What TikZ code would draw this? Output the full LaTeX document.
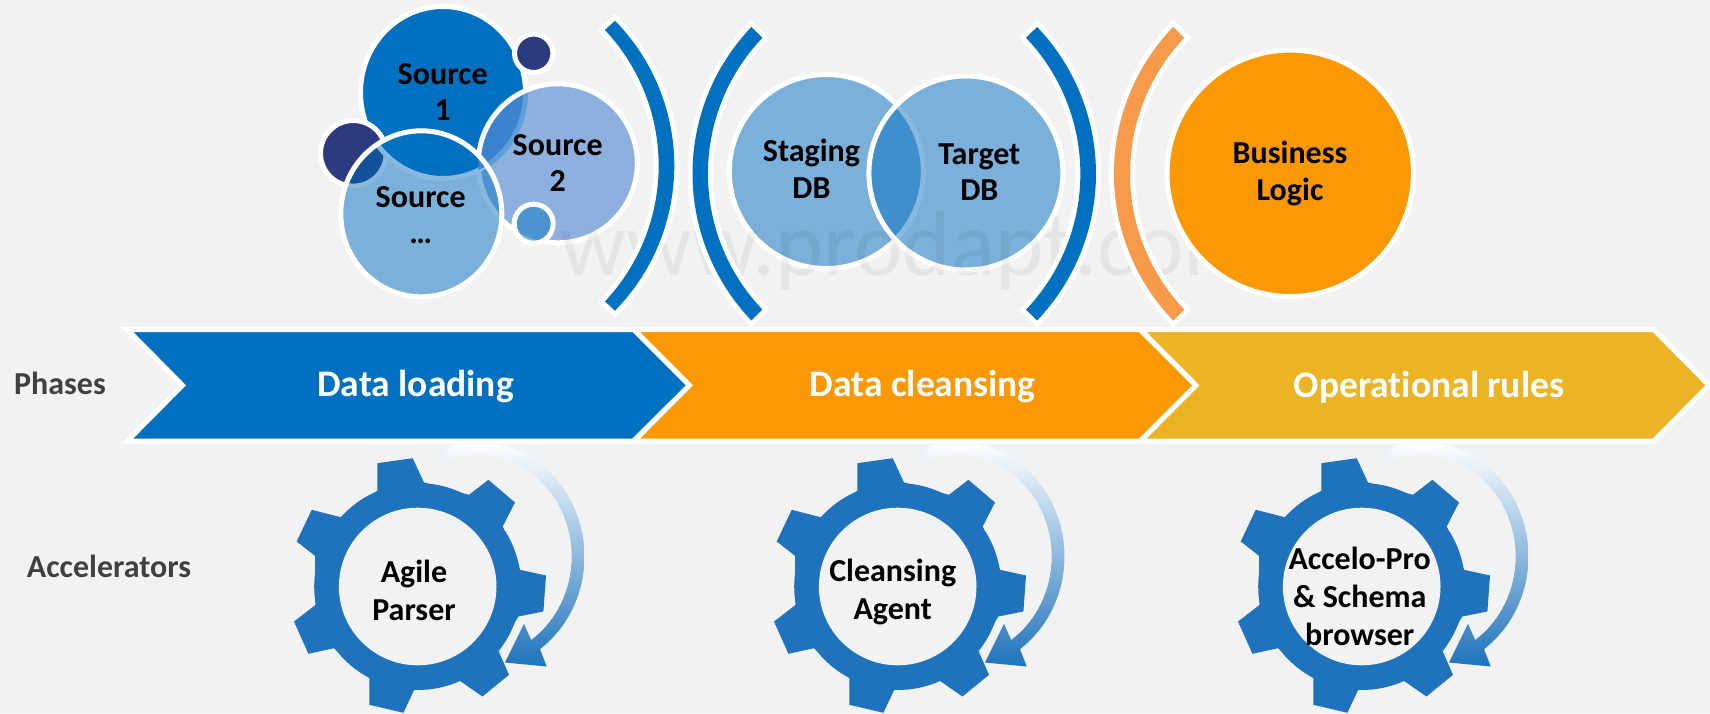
\documentclass[tikz,border=0pt]{standalone}
\usepackage{fontspec}
\setmainfont[Ligatures=NoCommon]{Carlito}
\definecolor{bgc}{HTML}{F2F2F2}
\definecolor{mainblue}{HTML}{0070C0}
\definecolor{midblue}{HTML}{7AB0D9}
\definecolor{paleblue}{HTML}{8EB0DE}
\definecolor{darkblue}{HTML}{2C3A80}
\definecolor{mixA}{HTML}{3B82CF}
\definecolor{mixB}{HTML}{4C93D0}
\definecolor{mixC}{HTML}{14519B}
\definecolor{mixD}{HTML}{3E8FCC}
\definecolor{faintA}{HTML}{5E9FD8}
\definecolor{faintB}{HTML}{88B8DE}
\definecolor{orangeA}{HTML}{FC9804}
\definecolor{orangeB}{HTML}{F79A4A}
\definecolor{yellowA}{HTML}{ECB424}
\definecolor{gearblue}{HTML}{1F73BC}
\definecolor{greytext}{HTML}{404040}
\definecolor{arrowmid}{HTML}{6FA6D6}
\tikzset{
  x=1pt,y=-1pt,
  ring/.style={draw=white,line width=5pt},
  lab/.style={inner sep=0pt,align=center,text=black,font=\fontsize{32}{36.5}\selectfont\bfseries},
  gearlab/.style={inner sep=0pt,align=center,text=black,font=\fontsize{32}{38}\selectfont\bfseries},
  phaselab/.style={inner sep=0pt,text=white,font=\fontsize{37.5}{40}\selectfont\bfseries},
  sidelab/.style={inner sep=0pt,text=greytext,font=\fontsize{32}{36}\selectfont\bfseries},
  chev/.style={draw=white,line width=5pt,miter limit=10},
}
% signed radius: negative opens to the right
\newcommand{\bandarc}[8]{%
  \path[fill=#1,preaction={draw=white,line width=10pt,miter limit=10,line join=miter}]
    plot[domain=-#5:#5,samples=40] ({#3+#4*cos(\x)},{#2+#4*sin(\x)})
    -- plot[domain=#8:-#8,samples=40] ({#6+#7*cos(\x)},{#2+#7*sin(\x)}) -- cycle;}
\newcommand{\gearshape}[4]{%
  \begin{scope}[shift={(#1,586.5)}]
    \fill[gearblue] (0,0) circle[radius=103.5];
    \fill[gearblue] (-40.3,-123.3) -- (-5,-128.3) -- (6.3,-104) -- (51.3,-91.7) -- (70.7,-106.7) -- (97.3,-84) -- (85,-60)
      -- (102.3,-16.7) -- (128.3,-11) -- (125.7,25) -- (100.7,30) -- (80.3,63.3) -- (91.3,88.3) -- (64.7,110) -- (40.7,93.3)
      -- (-2.7,101.7) -- (-14.3,126.3) -- (-48.3,118.3) -- (-48.3,90) -- (-83.7,61.7) -- (-109.3,67.3) -- (-123.7,35) -- (-102,18.3)
      -- (-102.7,-30.7) -- (-121,-45) -- (-106,-76.7) -- (-77,-69.3) -- (-40.3,-95.7) -- cycle;
    \fill[bgc] (0,0) circle[radius=78.8];
    \shade[top color=white,middle color=arrowmid,bottom color=gearblue]
      plot[domain=-104:54,samples=50] ({59+107.8*cos(\x)},{-30+114.5*sin(\x)})
      -- (129,80) -- (87.3,76) -- (106.3,37.3)
      -- plot[domain=55:-112,samples=50] ({59+95*cos(\x)},{-30+102*sin(\x)}) -- cycle;
    \node[gearlab] (#2) at (#3) {#4};
  \end{scope}}
\begin{document}
\begin{tikzpicture}
\useasboundingbox (0,0) rectangle (1710,713);
\fill[bgc] (0,0) rectangle (1710,713);
\def\sOne{(443,92.5) ellipse [x radius=82.5,y radius=86]}
\def\sTwo{(557.8,163.3) circle [radius=79.5]}
\def\sThree{(421.3,213.8) ellipse [x radius=80.5,y radius=83]}
\def\smallTop{(533.7,53.3) circle [radius=19.2]}
\def\smallLeft{(353.3,153.3) circle [radius=32.8]}
\def\smallBot{(533.7,223.7) circle [radius=19.5]}
\def\stag{(826.3,171.5) circle [radius=97]}
\def\targ{(965.9,173) circle [radius=97]}
% source group
\path[ring,fill=mainblue] \sOne;
\path[ring,fill=darkblue] \smallTop;
\path[ring,fill=darkblue] \smallLeft;
\path[fill=paleblue] \sTwo;
\begin{scope}
  \clip \sTwo;
  \path[draw=faintA,line width=5pt,fill=mixA] \sOne;
\end{scope}
\path[ring] \sTwo;
\path[fill=midblue] \smallBot;
\begin{scope}
  \clip \smallBot;
  \path[fill=mixB] \sTwo;
\end{scope}
\path[ring] \smallBot;
\path[fill=midblue] \sThree;
\begin{scope}
  \clip \sThree;
  \path[draw=faintB,line width=5pt,fill=mixB] \sTwo;
  \path[draw=faintB,line width=5pt,fill=mixC] \smallLeft;
  \path[draw=faintB,line width=5pt,fill=mainblue] \sOne;
  \begin{scope}
    \clip \sOne;
    \path[fill=mixA] \sTwo;
  \end{scope}
\end{scope}
\path[ring] \sThree;
% staging and target
\path[ring,fill=midblue] \stag;
\path[fill=midblue] \targ;
\begin{scope}
  \clip \targ;
  \path[draw=faintB,line width=5pt,fill=mixD] \stag;
\end{scope}
\path[ring] \targ;
% watermark
\node[anchor=base west,inner sep=0pt,text=black,opacity=0.05,font=\fontsize{92}{92}\selectfont] (wm) at (560,275) {www.prodapt.com};
% brackets
\bandarc{mainblue}{165.7}{467.4}{206.9}{44.5}{460.4}{198.3}{43.2}
\bandarc{mainblue}{173.7}{904.9}{-212.4}{43.7}{904.6}{-196.7}{43.7}
\bandarc{mainblue}{173.7}{883.6}{212.4}{43.7}{883.2}{197.2}{43.6}
\bandarc{orangeB}{173.7}{1325.3}{-211.4}{44}{1327.5}{-197.5}{43.5}
% business logic
\path[ring,fill=orangeA] (1290.2,173.3) circle [radius=123.2];
% labels in the upper row
\node[lab] (src1) at (442.7,92) {Source\\1};
\node[lab] (src2) at (557.7,163) {Source\\2};
\node[lab] (src3) at (420.7,215) {Source\\…};
\node[lab] (staging) at (811.4,169) {Staging\\DB};
\node[lab] (target) at (979.3,172) {Target\\DB};
\node[lab] (business) at (1290,173.5) {Business\\Logic};
% chevrons
\path[chev,fill=mainblue] (127.3,329.5) -- (633.7,329.5) -- (689.5,385.3) -- (633.7,441) -- (127.3,441) -- (182.5,385.3) -- cycle;
\path[chev,fill=orangeA] (634,329.5) -- (1140,329.5) -- (1196,385.3) -- (1140,441) -- (634,441) -- (689.5,385.3) -- cycle;
\path[chev,fill=yellowA] (1140.5,329.5) -- (1653.7,329.5) -- (1709,385.3) -- (1653.7,441) -- (1140.5,441) -- (1196,385.3) -- cycle;
\node[phaselab] (p1) at (415.5,387) {Data loading};
\node[phaselab] (p2) at (922.7,387) {Data cleansing};
\node[phaselab] (p3) at (1429,387) {Operational rules};
\node[sidelab] (phases) at (60,383.5) {Phases};
\node[sidelab] (accel) at (109,566) {Accelerators};
% gears
\gearshape{417.7}{g1}{-3.7,4}{Agile\\Parser}
\gearshape{897.7}{g2}{-5,5}{Cleansing\\Agent}
\gearshape{1361.7}{g3}{-2,10}{Accelo-Pro\\\& Schema~\\browser}
\end{tikzpicture}
\end{document}
